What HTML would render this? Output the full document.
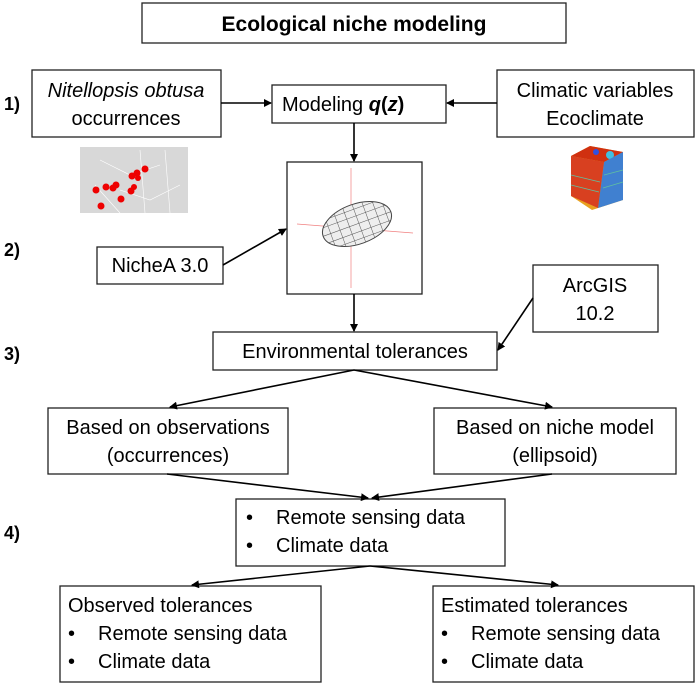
<!DOCTYPE html>
<html><head><meta charset="utf-8"><style>
body{margin:0;background:#fff}
svg{display:block}
text{font-family:"Liberation Sans",sans-serif;fill:#000}
</style></head><body>
<svg width="697" height="684" viewBox="0 0 697 684" xmlns="http://www.w3.org/2000/svg">
<defs>
<marker id="a" markerWidth="8" markerHeight="8" refX="7" refY="4" orient="auto" markerUnits="userSpaceOnUse"><path d="M0,0 L8,4 L0,8 z" fill="#000"/></marker>
<clipPath id="ec"><ellipse cx="0" cy="0" rx="36" ry="20"/></clipPath>
</defs>
<g fill="#fff" stroke="#222" stroke-width="1.3">
<rect x="142" y="3" width="424" height="40"/>
<rect x="32" y="70" width="189" height="67"/>
<rect x="272" y="85" width="174" height="38"/>
<rect x="497" y="70" width="197" height="67"/>
<rect x="287" y="162" width="135" height="132"/>
<rect x="97" y="247" width="126" height="37"/>
<rect x="533" y="265" width="125" height="67"/>
<rect x="213" y="332" width="284" height="38"/>
<rect x="48" y="408" width="240" height="66"/>
<rect x="434" y="408" width="242" height="66"/>
<rect x="236" y="499" width="269" height="67"/>
<rect x="60" y="586" width="261" height="96"/>
<rect x="433" y="586" width="261" height="96"/>
</g>
<g stroke="#000" stroke-width="1.6" marker-end="url(#a)" fill="none">
<line x1="221" y1="103" x2="271" y2="103"/>
<line x1="497" y1="103" x2="447" y2="103"/>
<line x1="354" y1="123" x2="354" y2="161"/>
<line x1="223" y1="265" x2="286" y2="229"/>
<line x1="354" y1="294" x2="354" y2="331"/>
<line x1="533" y1="298" x2="498" y2="350"/>
<line x1="354" y1="370" x2="170" y2="407"/>
<line x1="354" y1="370" x2="552" y2="407"/>
<line x1="167" y1="474" x2="368" y2="498"/>
<line x1="552" y1="474" x2="372" y2="498"/>
<line x1="370" y1="566" x2="192" y2="585"/>
<line x1="370" y1="566" x2="558" y2="585"/>
</g>
<g>
<rect x="80" y="147" width="108" height="66" fill="#d8d8d8"/>
<path d="M64,150 L80,147 L80,213 L64,213z" fill="#fff"/>
<g stroke="#fff" stroke-width="0.6" fill="none"><path d="M100,160 L130,175 L160,165 M120,190 L150,200 L180,185 M140,150 L145,213 M165,150 L170,213 M95,185 L120,213"/></g>
<g fill="#e00">
<circle cx="96" cy="190" r="3.5"/><circle cx="106" cy="187" r="3.5"/><circle cx="113" cy="188" r="3.5"/><circle cx="116" cy="185" r="3.5"/>
<circle cx="132" cy="176" r="3.5"/><circle cx="137" cy="173" r="3.5"/><circle cx="145" cy="169" r="3.5"/><circle cx="138" cy="178" r="3"/>
<circle cx="131" cy="191" r="3.5"/><circle cx="134" cy="187" r="3"/><circle cx="121" cy="199" r="3.5"/><circle cx="101" cy="206" r="3.5"/>
</g></g>
<g>
<polygon points="571,156 590,146 623,152 623,200 592,210 571,196" fill="#e8a020"/>
<polygon points="571,156 590,146 623,152 604,162" fill="#d03010"/>
<circle cx="596" cy="152" r="3" fill="#3050e0"/><circle cx="610" cy="155" r="4" fill="#40c0e0"/>
<polygon points="604,162 623,152 623,200 598,208" fill="#4080d0"/>
<polygon points="571,156 604,162 598,208 571,196" fill="#d84020"/>
<g stroke="#60c0a0" stroke-width="0.8"><line x1="571" y1="175" x2="600" y2="182"/><line x1="571" y1="185" x2="599" y2="192"/><line x1="604" y1="175" x2="623" y2="170"/><line x1="603" y1="188" x2="623" y2="182"/></g>
</g>
<g>
<g stroke="#f08080" stroke-width="0.7"><line x1="351" y1="168" x2="351" y2="288"/><line x1="297" y1="224" x2="413" y2="233"/></g>
<g transform="translate(357,224) rotate(-20)">
<ellipse rx="36" ry="20" fill="#eee" stroke="#444" stroke-width="1"/>
<g clip-path="url(#ec)" stroke="#555" stroke-width="0.5">
<line x1="-40" y1="-15" x2="40" y2="-15"/><line x1="-40" y1="-8" x2="40" y2="-8"/><line x1="-40" y1="0" x2="40" y2="0"/><line x1="-40" y1="8" x2="40" y2="8"/><line x1="-40" y1="15" x2="40" y2="15"/>
<line x1="-28" y1="-25" x2="-28" y2="25"/><line x1="-18" y1="-25" x2="-18" y2="25"/><line x1="-8" y1="-25" x2="-8" y2="25"/><line x1="2" y1="-25" x2="2" y2="25"/><line x1="12" y1="-25" x2="12" y2="25"/><line x1="22" y1="-25" x2="22" y2="25"/><line x1="31" y1="-25" x2="31" y2="25"/>
</g></g>
</g>
<g font-size="20">
<text x="354" y="31" text-anchor="middle" font-weight="bold" font-size="21">Ecological niche modeling</text>
<text x="4" y="110" font-weight="bold" font-size="18">1)</text>
<text x="4" y="256" font-weight="bold" font-size="18">2)</text>
<text x="4" y="360" font-weight="bold" font-size="18">3)</text>
<text x="4" y="539" font-weight="bold" font-size="18">4)</text>
<text x="126" y="97" text-anchor="middle" font-style="italic">Nitellopsis obtusa</text>
<text x="126" y="125" text-anchor="middle">occurrences</text>
<text x="282" y="111">Modeling <tspan font-weight="bold" font-style="italic">q</tspan><tspan font-weight="bold">(</tspan><tspan font-weight="bold" font-style="italic">z</tspan><tspan font-weight="bold">)</tspan></text>
<text x="595" y="97" text-anchor="middle">Climatic variables</text>
<text x="595" y="125" text-anchor="middle">Ecoclimate</text>
<text x="160" y="272" text-anchor="middle">NicheA 3.0</text>
<text x="595" y="292" text-anchor="middle">ArcGIS</text>
<text x="595" y="320" text-anchor="middle">10.2</text>
<text x="355" y="358" text-anchor="middle">Environmental tolerances</text>
<text x="168" y="434" text-anchor="middle">Based on observations</text>
<text x="168" y="462" text-anchor="middle">(occurrences)</text>
<text x="555" y="434" text-anchor="middle">Based on niche model</text>
<text x="555" y="462" text-anchor="middle">(ellipsoid)</text>
<text x="246" y="524">•</text><text x="276" y="524">Remote sensing data</text>
<text x="246" y="552">•</text><text x="276" y="552">Climate data</text>
<text x="68" y="612">Observed tolerances</text>
<text x="68" y="640">•</text><text x="98" y="640">Remote sensing data</text>
<text x="68" y="668">•</text><text x="98" y="668">Climate data</text>
<text x="441" y="612">Estimated tolerances</text>
<text x="441" y="640">•</text><text x="471" y="640">Remote sensing data</text>
<text x="441" y="668">•</text><text x="471" y="668">Climate data</text>
</g>
</svg>
</body></html>
